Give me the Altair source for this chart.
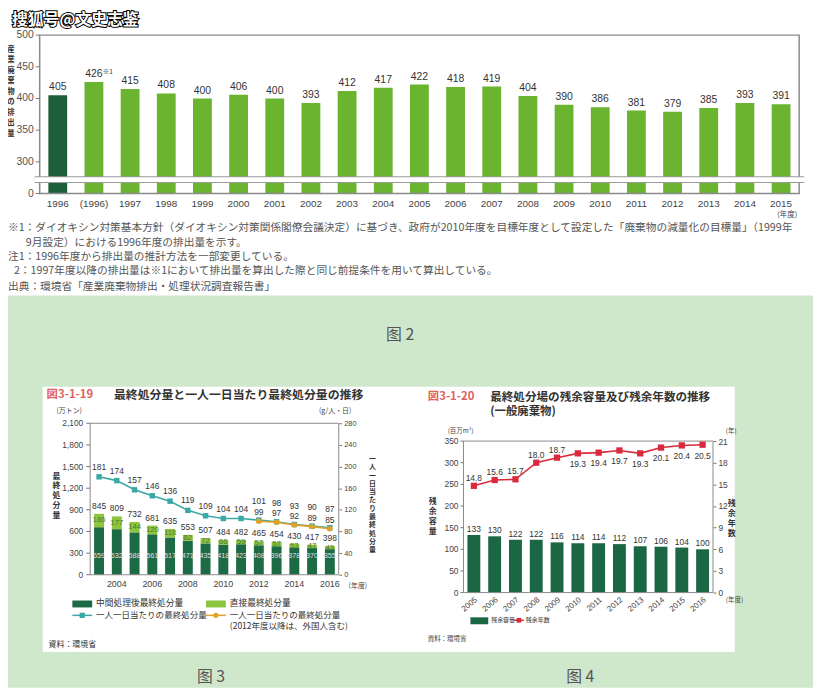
import altair as alt
import pandas as pd

# ---------------- data ----------------
top_years = ["1996", "(1996)", "1997", "1998", "1999", "2000", "2001", "2002", "2003",
             "2004", "2005", "2006", "2007", "2008", "2009", "2010", "2011", "2012",
             "2013", "2014", "2015"]
top_values = [405, 426, 415, 408, 400, 406, 400, 393, 412, 417, 422, 418, 419, 404,
              390, 386, 381, 379, 385, 393, 391]
top_ticks = [250, 300, 350, 400, 450, 500]   # 250 is printed as "0" under the axis break
top_break = 272

notes = [
    "※1：ダイオキシン対策基本方針（ダイオキシン対策関係閣僚会議決定）に基づき、政府が2010年度を目標年度として設定した「廃棄物の減量化の目標量」（1999年",
    "9月設定）における1996年度の排出量を示す。",
    "注1：1996年度から排出量の推計方法を一部変更している。",
    "2：1997年度以降の排出量は※1において排出量を算出した際と同じ前提条件を用いて算出している。",
    "出典：環境省「産業廃棄物排出・処理状況調査報告書」",
]

c3_years = list(range(2003, 2017))
c3_after_treatment = [659, 632, 588, 561, 517, 471, 435, 418, 423, 408, 396, 378, 370, 355]
c3_direct = [186, 177, 144, 120, 118, 82, 72, 66, 59, 57, 57, 53, 47, 43]
c3_total = [845, 809, 732, 681, 635, 553, 507, 484, 482, 465, 454, 430, 417, 398]
c3_per_capita = [181, 174, 157, 146, 136, 119, 109, 104, 104, 101, 98, 93, 90, 87]
c3_incl_years = [2012, 2013, 2014, 2015, 2016]
c3_incl_foreign = [99, 97, 92, 89, 85]
c3_left_ticks = [0, 300, 600, 900, 1200, 1500, 1800, 2100]
c3_right_ticks = [0, 40, 80, 120, 160, 200, 240, 280]
c3_year_ticks = [2004, 2006, 2008, 2010, 2012, 2014, 2016]

c4_years = list(range(2005, 2017))
c4_capacity = [133, 130, 122, 122, 116, 114, 114, 112, 107, 106, 104, 100]
c4_remaining = [14.8, 15.6, 15.7, 18.0, 18.7, 19.3, 19.4, 19.7, 19.3, 20.1, 20.4, 20.5]
c4_left_ticks = [0, 50, 100, 150, 200, 250, 300, 350]
c4_right_ticks = [0, 3, 6, 9, 12, 15, 18, 21]

# ---------------- styling ----------------
W, H = 813, 683
O = 8  # page margin: picture coordinates -> chart coordinates


def P(v):
    return v - O


JP = "Noto Sans CJK JP"
SC = "Noto Sans CJK SC"
NUM = "Liberation Sans"
TOP_LIGHT = "#6ab42f"
TOP_DARK = "#1e5e3b"
C3_DARK = "#1d6b45"
C3_LIGHT = "#8dc53e"
TEAL = "#3aa9a6"
ORANGE = "#e3a126"
C4_DARK = "#1b6643"
RED = "#d92a3e"
BG_GREEN = "#cfe7cb"
TITLE_RED = "#e0625a"
FRAME = "#8a8a8a"
TICK = "#777777"

ONE = pd.DataFrame({"k": [0]})


def txt(s, x, y, size, color="#333333", weight="normal", align="left",
        baseline="middle", font=JP, lh=None, **kw):
    props = dict(text=s, fontSize=size, color=color, fontWeight=weight,
                 align=align, baseline=baseline, font=font)
    if lh is not None:
        props["lineHeight"] = lh
    props.update(kw)
    return alt.Chart(ONE).mark_text(**props).encode(x=alt.value(P(x)), y=alt.value(P(y)))


def box(x1, x2, y1, y2, fill, **kw):
    return alt.Chart(ONE).mark_rect(color=fill, **kw).encode(
        x=alt.value(P(x1)), x2=alt.value(P(x2)), y=alt.value(P(y1)), y2=alt.value(P(y2)))


def hline(x1, x2, y, color, width=1.5):
    return alt.Chart(ONE).mark_rule(color=color, strokeWidth=width).encode(
        x=alt.value(P(x1)), x2=alt.value(P(x2)), y=alt.value(P(y)))


def ax(orient, offset, **kw):
    base = dict(orient=orient, offset=offset, domain=False, grid=False, zindex=1,
                labelColor="#444444", tickColor=TICK, labelFont=NUM,
                labelOverlap=False, title=None)
    base.update(kw)
    return alt.Axis(**base)


def left_axis(ticks, scale, x_edge, tick_len, pad, size, expr, color="#444444"):
    """Left-hand value labels and tick marks placed through the y scale."""
    d = pd.DataFrame({"v": ticks})
    yv = alt.Y("v:Q", scale=scale, axis=None)
    marks = alt.Chart(d).mark_rule(color=TICK, strokeWidth=1).encode(
        x=alt.value(P(x_edge - tick_len)), x2=alt.value(P(x_edge)), y=yv)
    labels = alt.Chart(d).transform_calculate(lab=expr).mark_text(
        align="right", baseline="middle", font=NUM, fontSize=size, color=color).encode(
        x=alt.value(P(x_edge - tick_len - pad)), y=yv, text="lab:N")
    return [marks, labels]


# ---------------- top chart ----------------
df_top = pd.DataFrame({"year": top_years, "value": top_values})
xs_top = alt.Scale(type="band", domain=top_years, range=[P(40), P(807)],
                   paddingInner=0.48, paddingOuter=0.24)
ys_top = alt.Scale(domain=[250, 500], range=[P(192), P(32)], nice=False, zero=False)
x_top = alt.X("year:N", scale=xs_top, title=None,
              axis=ax("bottom", P(192) - H, ticks=False, labelAngle=0, labelFontSize=10,
                      labelPadding=5))
y_top = alt.Y("value:Q", scale=ys_top, title=None, axis=None)

top_bars = alt.Chart(df_top).mark_bar().encode(
    x=x_top, y=y_top, y2=alt.datum(250),
    color=alt.condition(alt.datum.year == "1996", alt.value(TOP_DARK), alt.value(TOP_LIGHT)))
top_labels = alt.Chart(df_top).mark_text(baseline="bottom", dy=-3, font=NUM, fontSize=10.5,
                                         color="#333333").encode(
    x=x_top, y=y_top, text="value:Q")
top_note = alt.Chart(df_top).transform_filter(alt.datum.year == "(1996)").mark_text(
    text="※1", align="left", baseline="bottom", dx=9, dy=-7, font=JP, fontSize=6.5,
    color="#333333").encode(x=x_top, y=y_top)
top_frame = alt.Chart(ONE).mark_rect(fillOpacity=0, stroke=FRAME, strokeWidth=1.5).encode(
    x=alt.value(P(40)), x2=alt.value(P(807)),
    y=alt.YDatum(500, scale=ys_top, axis=None), y2=alt.datum(250))
top_break_g = alt.Chart(ONE).mark_rule(color="#9a9a9a", strokeWidth=7).encode(
    x=alt.value(P(35)), x2=alt.value(P(812)), y=alt.YDatum(top_break, scale=ys_top, axis=None))
top_break_w = alt.Chart(ONE).mark_rule(color="white", strokeWidth=4.6).encode(
    x=alt.value(P(35)), x2=alt.value(P(812)), y=alt.YDatum(top_break, scale=ys_top, axis=None))
top_yaxis = left_axis(top_ticks, ys_top, 40, 4, 2, 10.5,
                      "datum.v == 250 ? '0' : format(datum.v, 'd')", color="#555555")
top_chart = alt.layer(top_bars, top_labels, top_note, top_frame, *top_yaxis,
                      top_break_g, top_break_w)

# ---------------- chart 3 ----------------
df3 = pd.DataFrame({"year": c3_years, "inter": c3_after_treatment, "direct": c3_direct,
                    "total": c3_total, "percap": c3_per_capita})
df3f = pd.DataFrame({"year": c3_incl_years, "percap": c3_incl_foreign})
xs3 = alt.Scale(type="band", domain=c3_years, range=[P(91), P(342)],
                paddingInner=0.44, paddingOuter=0.22)
ys3 = alt.Scale(domain=[0, 2100], range=[P(577), P(424)], nice=False)
ys3r = alt.Scale(domain=[0, 280], range=[P(577), P(424)], nice=False)
x3 = alt.X("year:O", scale=xs3, title=None,
           axis=ax("bottom", P(577) - H, values=c3_year_ticks, ticks=False, labelAngle=0,
                   labelFontSize=9, labelPadding=5))
y3r_axis = ax("right", P(342) - W, values=c3_right_ticks, tickSize=3, labelPadding=2,
              labelFontSize=7.5)

c3_dark = alt.Chart(df3).mark_bar(color=C3_DARK).encode(
    x=x3, y=alt.Y("inter:Q", scale=ys3, title=None, axis=None), y2=alt.datum(0))
c3_light = alt.Chart(df3).mark_bar(color=C3_LIGHT).encode(
    x=x3, y=alt.Y("total:Q", scale=ys3, title=None, axis=None), y2="inter:Q")
c3_frame = alt.Chart(ONE).mark_rect(fillOpacity=0, stroke=FRAME, strokeWidth=1).encode(
    x=alt.value(P(91)), x2=alt.value(P(342)),
    y=alt.YDatum(2100, scale=ys3, axis=None), y2=alt.datum(0))
c3_tot_lab = alt.Chart(df3).mark_text(dy=-8, font=NUM, fontSize=8.5, color="#333333").encode(
    x=x3, y=alt.Y("total:Q", scale=ys3, axis=None), text="total:Q")
c3_dir_lab = alt.Chart(df3).transform_calculate(mid="(datum.inter + datum.total) / 2").mark_text(
    font=NUM, fontSize=7.8, color="#4c7a32").encode(
    x=x3, y=alt.Y("mid:Q", scale=ys3, axis=None), text="direct:Q")
c3_int_lab = alt.Chart(df3).mark_text(font=NUM, fontSize=7.3, color="#e6dde6").encode(
    x=x3, y=alt.YDatum(262, scale=ys3, axis=None), text="inter:Q")
c3_yaxis = left_axis(c3_left_ticks, ys3, 91, 4, 3, 8.5, "format(datum.v, ',d')")
c3_left = alt.layer(c3_dark, c3_light, c3_frame, c3_tot_lab, c3_dir_lab, c3_int_lab, *c3_yaxis)

y3r = alt.Y("percap:Q", scale=ys3r, title=None, axis=y3r_axis)
c3_tline = alt.Chart(df3).mark_line(color=TEAL, strokeWidth=1.6).encode(x=x3, y=y3r)
c3_tpts = alt.Chart(df3).mark_square(color=TEAL, size=30, opacity=1).encode(x=x3, y=y3r)
c3_tlab1 = alt.Chart(df3).transform_filter(alt.datum.year < 2012).mark_text(
    dy=-10, font=NUM, fontSize=8.5, color="#333333").encode(x=x3, y=y3r, text="percap:Q")
c3_tlab2 = alt.Chart(df3).transform_filter(alt.datum.year >= 2012).mark_text(
    dy=-19, font=NUM, fontSize=8.5, color="#333333").encode(x=x3, y=y3r, text="percap:Q")
c3_oline = alt.Chart(df3f).mark_line(color=ORANGE, strokeWidth=1.6).encode(x=x3, y=y3r)
c3_opts = alt.Chart(df3f).mark_circle(color=ORANGE, size=30, opacity=1).encode(x=x3, y=y3r)
c3_olab = alt.Chart(df3f).mark_text(dy=-9, font=NUM, fontSize=8.5, color="#333333").encode(
    x=x3, y=y3r, text="percap:Q")
c3_right = alt.layer(c3_tline, c3_oline, c3_tpts, c3_opts, c3_tlab1, c3_tlab2, c3_olab)
chart3 = alt.layer(c3_left, c3_right).resolve_scale(y="independent")

# ---------------- chart 4 ----------------
df4 = pd.DataFrame({"year": c4_years, "cap": c4_capacity, "rem": c4_remaining})
xs4 = alt.Scale(type="band", domain=c4_years, range=[P(468), P(720)],
                paddingInner=0.38, paddingOuter=0.19)
ys4 = alt.Scale(domain=[0, 350], range=[P(595), P(442)], nice=False)
ys4r = alt.Scale(domain=[0, 21], range=[P(595), P(442)], nice=False)
x4 = alt.X("year:O", scale=xs4, title=None,
           axis=ax("bottom", P(595) - H, ticks=False, labelAngle=-40, labelFontSize=8,
                   labelPadding=3))
y4 = alt.Y("cap:Q", scale=ys4, title=None, axis=None)
y4r = alt.Y("rem:Q", scale=ys4r, title=None,
            axis=ax("right", P(720) - W, values=c4_right_ticks, tickSize=3, labelPadding=2,
                    labelFontSize=8.5))
c4_bars = alt.Chart(df4).mark_bar(color=C4_DARK).encode(x=x4, y=y4, y2=alt.datum(0))
c4_blab = alt.Chart(df4).mark_text(baseline="bottom", dy=-1, font=NUM, fontSize=8.5,
                                   color="#333333").encode(x=x4, y=y4, text="cap:Q")
c4_frame = alt.Chart(ONE).mark_rect(fillOpacity=0, stroke=FRAME, strokeWidth=1).encode(
    x=alt.value(P(468)), x2=alt.value(P(720)),
    y=alt.YDatum(350, scale=ys4, axis=None), y2=alt.datum(0))
c4_yaxis = left_axis(c4_left_ticks, ys4, 468, 3, 2, 8.5, "format(datum.v, 'd')")
c4_left = alt.layer(c4_bars, c4_blab, c4_frame, *c4_yaxis)
c4_line = alt.Chart(df4).mark_line(color=RED, strokeWidth=1.6).encode(x=x4, y=y4r)
c4_pts = alt.Chart(df4).mark_square(color=RED, size=40, opacity=1).encode(x=x4, y=y4r)
c4_lab1 = alt.Chart(df4).transform_filter(alt.datum.year <= 2009).mark_text(
    dy=-8, font=NUM, fontSize=8.5, color="#333333").encode(
    x=x4, y=y4r, text=alt.Text("rem:Q", format=".1f"))
c4_lab2 = alt.Chart(df4).transform_filter(alt.datum.year > 2009).mark_text(
    dy=11, font=NUM, fontSize=8.5, color="#333333").encode(
    x=x4, y=y4r, text=alt.Text("rem:Q", format=".1f"))
c4_right = alt.layer(c4_line, c4_pts, c4_lab1, c4_lab2)
chart4 = alt.layer(c4_left, c4_right).resolve_scale(y="independent")

# ---------------- decorations / text ----------------
deco_top = [
    txt(list("産業廃棄物の排出量"), 11, 43, 7.5, color="#333333", weight="bold",
        align="center", baseline="top", lh=10.6),
    txt("(年度)", 795, 214, 7.5, color="#444444", align="center"),
    txt(notes[0], 8, 227, 10.8, color="#555555"),
    txt(notes[1], 26, 242, 10.8, color="#555555"),
    txt(notes[2], 8, 256, 10.8, color="#555555"),
    txt(notes[3], 14, 270, 10.8, color="#555555"),
    txt(notes[4], 8, 286, 10.8, color="#555555"),
    txt("搜狐号@文史志鉴", 12, 17, 16, color="black", weight="bold", font=SC,
        stroke="black", strokeWidth=2),
    txt("搜狐号@文史志鉴", 12, 17, 16, color="white", weight="bold", font=SC),
]

deco_bottom = [
    box(0, W + O, 295, H + O, BG_GREEN),
    txt("图 2", 404, 335, 16, color="#555555", align="center", font=SC),
    txt("图 3", 213, 680, 16, color="#555555", align="center", font=SC),
    txt("图 4", 586, 680, 16, color="#555555", align="center", font=SC),
    box(43, 742, 387, 655, "white"),
    # chart 3 texts
    txt("図3-1-19", 47, 395, 11.5, color=TITLE_RED, weight="bold"),
    txt("最終処分量と一人一日当たり最終処分量の推移", 115, 395, 12, weight="bold"),
    txt("(万トン)", 57, 412, 7, color="#444444"),
    txt("(g/人・日)", 322, 412, 7, color="#444444"),
    txt(list("最終処分量"), 57, 474, 8, weight="bold", align="center", baseline="top", lh=9.8),
    txt(list("一人一日当たり最終処分量"), 376, 456, 7, weight="bold", align="center",
        baseline="top", lh=8.4),
    txt("(年度)", 352, 588, 7, color="#444444"),
    box(73, 93, 603, 610, C3_DARK),
    txt("中間処理後最終処分量", 97, 606, 8.8),
    box(208, 228, 603, 610, C3_LIGHT),
    txt("直接最終処分量", 232, 606, 8.8),
    hline(73, 93, 618, TEAL),
    txt("一人一日当たりの最終処分量", 97, 618, 8.6),
    hline(208, 228, 618, ORANGE),
    txt("一人一日当たりの最終処分量", 232, 618, 8.6),
    txt("(2012年度以降は、外国人含む)", 232, 629, 8.6),
    txt("資料：環境省", 49, 648, 8),
    # chart 4 texts
    txt("図3-1-20", 432, 398, 11.5, color=TITLE_RED, weight="bold"),
    txt("最終処分場の残余容量及び残余年数の推移", 495, 398, 11.7, weight="bold"),
    txt("(一般廃棄物)", 495, 413, 11.5, weight="bold"),
    txt("(百万m³)", 452, 432, 6.5, color="#444444"),
    txt("(年)", 733, 432, 6.5, color="#444444"),
    txt(list("残余容量"), 437, 500, 8, weight="bold", align="center", baseline="top", lh=9.8),
    txt(list("残余年数"), 739, 502, 8, weight="bold", align="center", baseline="top", lh=9.8),
    txt("(年度)", 733, 603, 6.5, color="#444444"),
    box(475, 493, 620, 627, C4_DARK),
    txt("残余容量", 496, 623, 6),
    hline(519, 529, 623, RED),
    txt("残余年数", 531, 623, 6),
    txt("資料：環境省", 432, 642, 6.5),
]

legend_marks = [
    alt.Chart(ONE).mark_square(color=TEAL, size=28, opacity=1).encode(
        x=alt.value(P(83)), y=alt.value(P(618))),
    alt.Chart(ONE).mark_circle(color=ORANGE, size=28, opacity=1).encode(
        x=alt.value(P(218)), y=alt.value(P(618))),
    alt.Chart(ONE).mark_square(color=RED, size=22, opacity=1).encode(
        x=alt.value(P(524)), y=alt.value(P(623))),
]

chart = alt.layer(
    top_chart, *deco_top, *deco_bottom, chart3, chart4, *legend_marks
).resolve_scale(
    x="independent", y="independent"
).properties(
    width=W, height=H, padding=0, background="white",
    autosize=alt.AutoSizeParams(type="none"),
).configure_view(strokeWidth=0)

chart.save("out.html", embed_options={"renderer": "svg", "actions": False})
